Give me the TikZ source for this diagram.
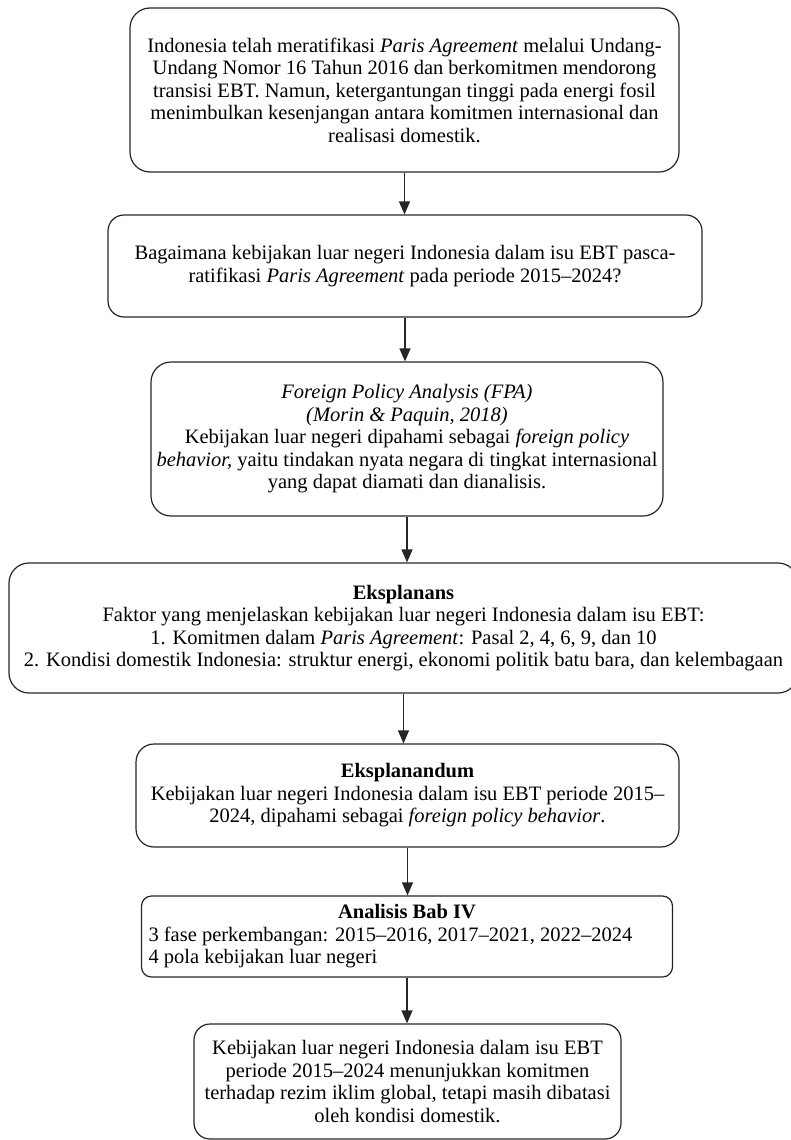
\documentclass[tikz,border=0pt]{standalone}
\usepackage{fontspec}
\setmainfont{Liberation Serif}
\usetikzlibrary{arrows.meta}
\tikzset{
  box/.style={draw=black!85, line width=1.2pt, inner sep=0pt, align=center,
    font=\fontsize{20.5}{22.5}\selectfont},
  arr/.style={draw=black!85, line width=1.2pt, -{Triangle[length=13pt,width=11pt]}}
}
\begin{document}
\begin{tikzpicture}[x=1pt,y=-1pt]
\useasboundingbox (0,0) rectangle (790,1140);
\node[box, rounded corners=20pt, minimum width=549pt, minimum height=164pt] (b1) at (404.5,90)
 {Indonesia telah meratifikasi \textit{Paris Agreement} melalui Undang-\\
  Undang Nomor 16 Tahun 2016 dan berkomitmen mendorong\\
  transisi EBT. Namun, ketergantungan tinggi pada energi fosil\\
  menimbulkan kesenjangan antara komitmen internasional dan\\
  realisasi domestik.};
\node[box, rounded corners=16pt, minimum width=594pt, minimum height=102pt] (b2) at (405,266)
 {Bagaimana kebijakan luar negeri Indonesia dalam isu EBT pasca-\\
  ratifikasi \textit{Paris Agreement} pada periode 2015–2024?};
\node[box, rounded corners=20pt, minimum width=512pt, minimum height=154pt] (b3) at (407,439)
 {\textit{Foreign Policy Analysis (FPA)}\\
  \textit{(Morin \& Paquin, 2018)}\\
  Kebijakan luar negeri dipahami sebagai \textit{foreign policy}\\
  \textit{behavior,} yaitu tindakan nyata negara di tingkat internasional\\
  yang dapat diamati dan dianalisis.};
\node[box, rounded corners=20pt, minimum width=789pt, minimum height=130pt] (b4) at (403.5,628)
 {\textbf{Eksplanans}\\
  Faktor yang menjelaskan kebijakan luar negeri Indonesia dalam isu EBT:\\
  1. Komitmen dalam \textit{Paris Agreement}: Pasal 2, 4, 6, 9, dan 10\\
  2. Kondisi domestik Indonesia: struktur energi, ekonomi politik batu bara, dan kelembagaan};
\node[box, rounded corners=18pt, minimum width=543pt, minimum height=103pt] (b5) at (407.5,795.5)
 {\textbf{Eksplanandum}\\
  Kebijakan luar negeri Indonesia dalam isu EBT periode 2015–\\
  2024, dipahami sebagai \textit{foreign policy behavior}.};
\node[box, rounded corners=10pt, minimum width=531pt, minimum height=81pt, align=left] (b6) at (407,936.5)
 {\makebox[517pt][c]{\textbf{Analisis Bab IV}}\\
  3 fase perkembangan: 2015–2016, 2017–2021, 2022–2024\\
  4 pola kebijakan luar negeri\hspace*{0pt}};
\node[box, rounded corners=16pt, minimum width=427pt, minimum height=115pt] (b7) at (407.5,1081.5)
 {Kebijakan luar negeri Indonesia dalam isu EBT\\
  periode 2015–2024 menunjukkan komitmen\\
  terhadap rezim iklim global, tetapi masih dibatasi\\
  oleh kondisi domestik.};
\draw[arr] (b1.south) -- (b1.south |- b2.north);
\draw[arr] (b2.south) -- (b2.south |- b3.north);
\draw[arr] (b3.south) -- (b3.south |- b4.north);
\draw[arr] (b4.south) -- (b4.south |- b5.north);
\draw[arr] (b5.south) -- (b5.south |- b6.north);
\draw[arr] (b6.south) -- (b6.south |- b7.north);
\end{tikzpicture}
\end{document}
